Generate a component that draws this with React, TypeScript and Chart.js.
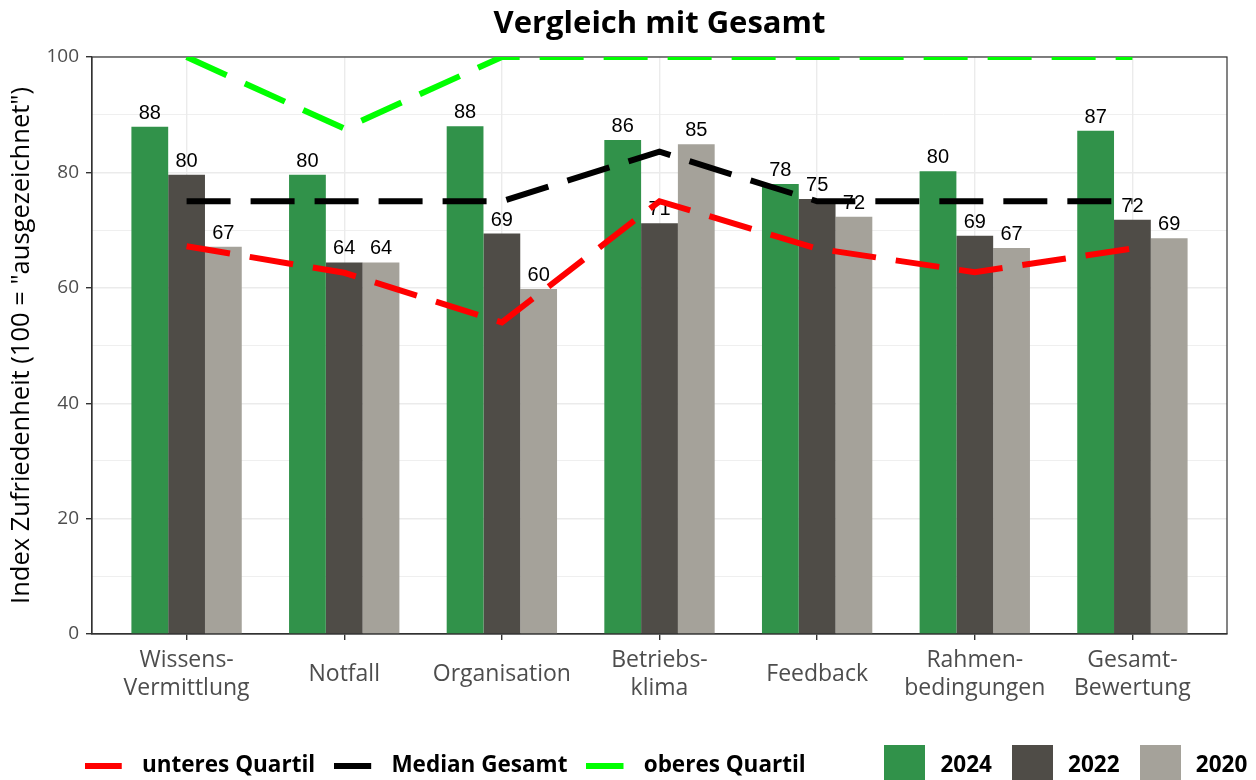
import React, { useEffect, useRef } from "react";
import { Chart, registerables } from "chart.js";

Chart.register(...registerables);

const categories: (string | string[])[] = [
  ["Wissens-", "Vermittlung"],
  "Notfall",
  "Organisation",
  ["Betriebs-", "klima"],
  "Feedback",
  ["Rahmen-", "bedingungen"],
  ["Gesamt-", "Bewertung"],
];
const values2024 = [87.9, 79.6, 88.0, 85.6, 78.0, 80.2, 87.2];
const values2022 = [79.6, 64.4, 69.4, 71.2, 75.4, 69.0, 71.8];
const values2020 = [67.1, 64.4, 59.8, 84.9, 72.3, 66.9, 68.6];
const lowerQuartile = [67.2, 62.6, 54.0, 75.0, 66.8, 62.7, 66.8];
const medianTotal = [75, 75, 75, 83.6, 75, 75, 75];
const upperQuartile = [100, 87.6, 100, 100, 100, 100, 100];
const yTicks = [0, 20, 40, 60, 80, 100];

const W = 1329;
const H = 787;
const FONT = '"Open Sans", "Noto Sans", sans-serif';

const toPoints = (arr: number[]) => arr.map((y, i) => ({ x: i, y }));

function swatch(color: string, w: number, h: number, drawW: number) {
  const c = document.createElement("canvas");
  c.width = w;
  c.height = h;
  const g = c.getContext("2d")!;
  g.fillStyle = color;
  g.fillRect(0, 0, drawW, h);
  return c;
}

const barLabels = {
  id: "barLabels",
  afterDatasetDraw(chart: any, args: any) {
    const ds = chart.data.datasets[args.index];
    if (ds.type !== "bar") return;
    const ctx = chart.ctx;
    ctx.save();
    ctx.font = '20px "Liberation Sans", Arial, sans-serif';
    ctx.fillStyle = "#000";
    ctx.textAlign = "center";
    ctx.textBaseline = "alphabetic";
    args.meta.data.forEach((el: any, i: number) => {
      const v = ds.data[i].y;
      ctx.fillText(String(Math.round(v)), el.x, el.y - 8);
    });
    ctx.restore();
  },
};

const panelBorder = {
  id: "panelBorder",
  beforeDatasetsDraw(chart: any) {
    const { ctx, chartArea } = chart;
    ctx.save();
    ctx.strokeStyle = "#333333";
    ctx.lineWidth = 1.2;
    ctx.strokeRect(chartArea.left, chartArea.top, chartArea.right - chartArea.left, chartArea.bottom - chartArea.top);
    ctx.restore();
  },
};

export default function App() {
  const ref = useRef<HTMLCanvasElement>(null);
  useEffect(() => {
    if (!ref.current) return;
    const lineDash = [44, 20];
    const lineDs = (label: string, data: number[], color: string) => ({
      type: "line" as const,
      label,
      data: toPoints(data),
      borderColor: color,
      backgroundColor: color,
      borderWidth: 6,
      borderDash: lineDash,
      borderCapStyle: "butt" as const,
      pointRadius: 0,
      fill: false,
      tension: 0,
      clip: 0,
    });
    const barDs = (label: string, data: number[], color: string) => ({
      type: "bar" as const,
      label,
      data: toPoints(data),
      backgroundColor: color,
      borderWidth: 0,
      categoryPercentage: 0.7,
      barPercentage: 1.0,
    });
    const datasets: any[] = [
      lineDs("unteres Quartil", lowerQuartile, "#ff0000"),
      lineDs("Median Gesamt", medianTotal, "#000000"),
      lineDs("oberes Quartil", upperQuartile, "#00ff00"),
      barDs("2024", values2024, "#31924a"),
      barDs("2022", values2022, "#4f4c47"),
      barDs("2020", values2020, "#a5a29a"),
    ];
    const chart = new Chart(ref.current, {
      type: "bar",
      data: { datasets },
      plugins: [barLabels, panelBorder],
      options: {
        animation: false,
        responsive: false,
        events: [],
        layout: { padding: { left: 0, right: 0, top: 0, bottom: 0 } },
        plugins: {
          tooltip: { enabled: false },
          title: {
            display: true,
            text: "Vergleich mit Gesamt",
            fullSize: false,
            color: "#000",
            font: { family: FONT, size: 31, weight: "bold" },
            padding: { top: 6, bottom: 13.8 },
          },
          legend: {
            display: true,
            position: "bottom",
            align: "center",
            labels: {
              usePointStyle: true,
              pointStyleWidth: 49,
              padding: 16,
              color: "#000",
              font: { family: FONT, size: 22.5, weight: "bold" },
              generateLabels: (ch: any) =>
                ch.data.datasets.map((ds: any, i: number) => ({
                  text: ds.label + (i === 2 ? "          " : ""),
                  fillStyle: ds.backgroundColor,
                  strokeStyle: "rgba(0,0,0,0)",
                  lineWidth: 0,
                  fontColor: "#000",
                  hidden: false,
                  datasetIndex: i,
                  pointStyle:
                    ds.type === "line"
                      ? swatch(ds.borderColor, 43, 6, 37)
                      : swatch(ds.backgroundColor, 41, 41, 41),
                })),
            },
          },
        },
        scales: {
          x: {
            type: "linear",
            min: -0.6,
            max: 6.6,
            offset: false,
            afterBuildTicks: (s: any) => {
              s.ticks = categories.map((_, i) => ({ value: i }));
            },
            afterFit: (s: any) => {
              s.height = 104.5;
            },
            grid: { color: "#ebebeb", lineWidth: 1.4, tickColor: "#333333", tickLength: 6, offset: false },
            border: { display: true, color: "#333333", width: 1.2 },
            ticks: {
              autoSkip: false,
              maxRotation: 0,
              minRotation: 0,
              padding: 7,
              color: "#4d4d4d",
              font: (c: any) => ({
                family: FONT,
                size: 23,
                lineHeight: Array.isArray(categories[c.index]) ? 1.2 : 2.4,
              }),
              callback: (v: any) => (categories[v] !== undefined ? (categories[v] as any) : ""),
            },
          },
          y: {
            type: "linear",
            min: 0,
            max: 100,
            afterBuildTicks: (s: any) => {
              const t: any[] = [];
              for (let v = 0; v <= 100; v += 10) t.push({ value: v });
              s.ticks = t;
            },
            afterFit: (s: any) => {
              s.width = 92;
            },
            grid: {
              color: "#ebebeb",
              lineWidth: (c: any) => (c.tick && c.tick.value % 20 === 0 ? 1.4 : 0.8),
              tickColor: (c: any) => (c.tick && c.tick.value % 20 === 0 ? "#333333" : "rgba(0,0,0,0)"),
              tickLength: 6,
            },
            border: { display: true, color: "#333333", width: 1.2 },
            ticks: {
              autoSkip: false,
              padding: 7,
              color: "#4d4d4d",
              font: { family: FONT, size: 19 },
              callback: (v: any) => (yTicks.includes(v) ? String(v) : ""),
            },
            title: {
              display: true,
              text: 'Index Zufriedenheit (100 = "ausgezeichnet")',
              color: "#000",
              font: { family: FONT, size: 25.5 },
              padding: { top: 6.7, bottom: 0 },
            },
          },
          yRight: {
            type: "linear",
            position: "right",
            display: true,
            min: 0,
            max: 100,
            grid: { display: false, drawTicks: false },
            border: { display: false },
            ticks: { display: false },
            afterFit: (s: any) => {
              s.width = W - 1227;
            },
          },
        },
      } as any,
    });
    return () => chart.destroy();
  }, []);
  return (
    <div style={{ position: "fixed", left: 0, top: 0, width: 1256, height: 780, overflow: "hidden", background: "#fff" }}>
      <canvas ref={ref} width={W} height={H} style={{ display: "block", width: W, height: H }} />
    </div>
  );
}
